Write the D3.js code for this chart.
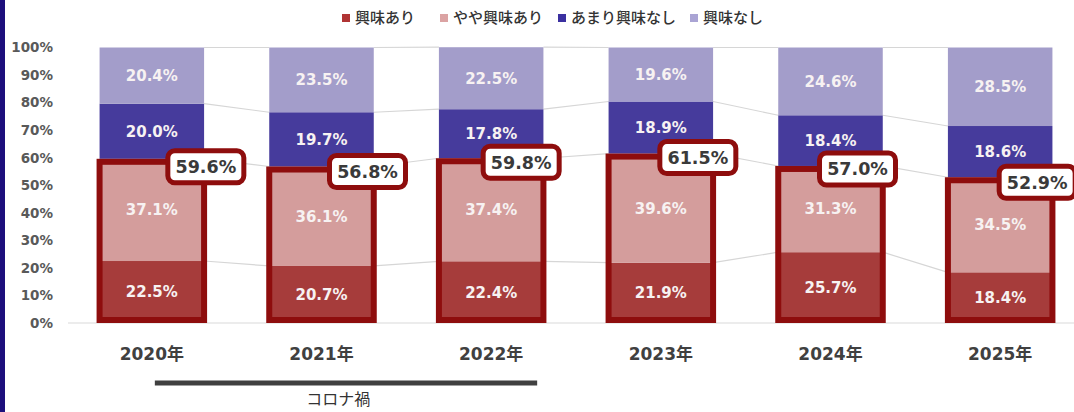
<!DOCTYPE html>
<html>
<head>
<meta charset="utf-8">
<script src="https://cdn.jsdelivr.net/npm/d3@7"></script>
<style>
  body { margin: 0; background: #fff; }
  svg { display: block; font-family: "DejaVu Sans", "Noto Sans CJK JP", sans-serif; }
</style>
</head>
<body>
<svg id="chart" width="1074" height="412"></svg>
<script>
const years = ['2020年', '2021年', '2022年', '2023年', '2024年', '2025年'];
const seriesNames = ['興味あり', 'やや興味あり', 'あまり興味なし', '興味なし'];
const interested = [22.5, 20.7, 22.4, 21.9, 25.7, 18.4];
const somewhat = [37.1, 36.1, 37.4, 39.6, 31.3, 34.5];
const notMuch = [20.0, 19.7, 17.8, 18.9, 18.4, 18.6];
const notInterested = [20.4, 23.5, 22.5, 19.6, 24.6, 28.5];
const totals = [59.6, 56.8, 59.8, 61.5, 57.0, 52.9];
const yTicks = [0, 10, 20, 30, 40, 50, 60, 70, 80, 90, 100];
const covidYears = ['2020年', '2022年'];
const covidLabel = 'コロナ禍';

const colors = ['#a63c3b', '#d49d9c', '#463b9c', '#a39dca'];
const legendColors = ['#b03434', '#dba3a3', '#3b30a0', '#aaa4d4'];
const boxRed = '#8e0d0d';

const svg = d3.select('svg#chart');

const rows = years.map((y, i) => ({
  year: y,
  [seriesNames[0]]: interested[i],
  [seriesNames[1]]: somewhat[i],
  [seriesNames[2]]: notMuch[i],
  [seriesNames[3]]: notInterested[i]
}));
const stacked = d3.stack().keys(seriesNames)(rows);

const x = d3.scaleBand().domain(years).range([67, 1085]).paddingInner(0.384).paddingOuter(0.192);
const y = d3.scaleLinear().domain([0, 100]).range([323, 47.5]);

// left edge strip
svg.append('rect').attr('x', 0).attr('y', 0).attr('width', 5).attr('height', 412).attr('fill', '#1d0f7c');

// baseline
svg.append('line')
  .attr('x1', 68).attr('x2', 1074)
  .attr('y1', y(0)).attr('y2', y(0))
  .attr('stroke', '#d9d9d9').attr('stroke-width', 1);

// y axis labels
svg.append('g').selectAll('text')
  .data(yTicks)
  .join('text')
  .attr('x', 53)
  .attr('y', d => y(d))
  .attr('dy', '0.36em')
  .attr('text-anchor', 'end')
  .attr('font-size', 13.5)
  .attr('font-weight', 'bold')
  .attr('fill', '#595959')
  .text(d => d + '%');

// series lines between bars
stacked.forEach(s => {
  for (let i = 0; i < years.length - 1; i++) {
    svg.append('line')
      .attr('x1', x(years[i]) + x.bandwidth())
      .attr('x2', x(years[i + 1]))
      .attr('y1', y(s[i][1]))
      .attr('y2', y(s[i + 1][1]))
      .attr('stroke', '#d6d6d6')
      .attr('stroke-width', 1.2);
  }
});

// bars
const layers = svg.append('g').selectAll('g')
  .data(stacked)
  .join('g')
  .attr('fill', (d, i) => colors[i]);

layers.selectAll('rect')
  .data(d => d)
  .join('rect')
  .attr('x', d => x(d.data.year))
  .attr('y', d => y(d[1]))
  .attr('width', x.bandwidth())
  .attr('height', d => y(d[0]) - y(d[1]));

layers.selectAll('text')
  .data(d => d)
  .join('text')
  .attr('x', d => x(d.data.year) + x.bandwidth() / 2)
  .attr('y', d => (y(d[0]) + y(d[1])) / 2)
  .attr('dy', '0.36em')
  .attr('text-anchor', 'middle')
  .attr('font-size', 15)
  .attr('font-weight', 'bold')
  .attr('fill', '#f7f2f2')
  .text(d => (d[1] - d[0]).toFixed(1) + '%');

// red outline around "interested" total
svg.append('g').selectAll('rect')
  .data(years)
  .join('rect')
  .attr('x', d => x(d))
  .attr('y', (d, i) => y(totals[i]) + 3)
  .attr('width', x.bandwidth())
  .attr('height', (d, i) => y(0) - y(totals[i]) - 6)
  .attr('fill', 'none')
  .attr('stroke', boxRed)
  .attr('stroke-width', 6);

// total callouts
const calloutDx = [54, 46, 30, 37, 27, 37];
const calloutDy = [8, 5, 4, 4, 3, 5];
const callouts = svg.append('g').selectAll('g')
  .data(years)
  .join('g')
  .attr('transform', (d, i) =>
    `translate(${x(d) + x.bandwidth() / 2 + calloutDx[i]},${y(totals[i]) + calloutDy[i]})`);

callouts.append('rect')
  .attr('x', -38).attr('y', -16)
  .attr('width', 76).attr('height', 32)
  .attr('rx', 7)
  .attr('fill', '#fff')
  .attr('stroke', boxRed)
  .attr('stroke-width', 5);

callouts.append('text')
  .attr('text-anchor', 'middle')
  .attr('dy', '0.36em')
  .attr('font-size', 17.5)
  .attr('font-weight', 'bold')
  .attr('fill', '#3a3a3a')
  .text((d, i) => totals[i].toFixed(1) + '%');

// x axis labels
svg.append('g').selectAll('text')
  .data(years)
  .join('text')
  .attr('x', d => x(d) + x.bandwidth() / 2)
  .attr('y', 354)
  .attr('dy', '0.36em')
  .attr('text-anchor', 'middle')
  .attr('font-size', 17)
  .attr('font-weight', 'bold')
  .attr('fill', '#404040')
  .text(d => d);

// covid period bracket
const cx1 = x(covidYears[0]) + x.bandwidth() / 2 + 3;
const cx2 = x(covidYears[1]) + x.bandwidth() / 2 + 46;
svg.append('line')
  .attr('x1', cx1).attr('x2', cx2)
  .attr('y1', 383).attr('y2', 383)
  .attr('stroke', '#404040')
  .attr('stroke-width', 5);
svg.append('text')
  .attr('x', cx1 + (cx2 - cx1) * 0.48)
  .attr('y', 405)
  .attr('text-anchor', 'middle')
  .attr('font-family', '"Noto Sans CJK JP", sans-serif')
  .attr('font-size', 16)
  .attr('fill', '#333')
  .text(covidLabel);

// legend
const legendX = [342, 440, 558, 690];
const legend = svg.append('g').selectAll('g')
  .data(seriesNames)
  .join('g')
  .attr('transform', (d, i) => `translate(${legendX[i]},18)`);
legend.append('rect')
  .attr('x', 0).attr('y', -4)
  .attr('width', 8).attr('height', 8)
  .attr('fill', (d, i) => legendColors[i]);
legend.append('text')
  .attr('x', 13)
  .attr('dy', '0.35em')
  .attr('font-family', '"Noto Sans CJK JP", sans-serif')
  .attr('font-size', 15)
  .attr('font-weight', 500)
  .attr('fill', '#333')
  .text(d => d);
</script>
</body>
</html>
